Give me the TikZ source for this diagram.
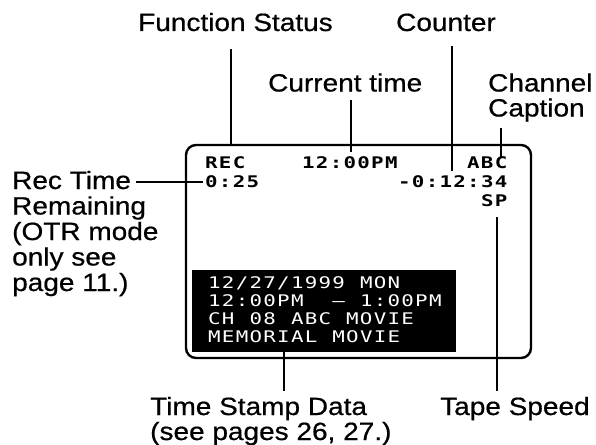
\documentclass[tikz,border=0pt]{standalone}
\usepackage{fontspec}
\setmainfont[FakeStretch=1.12,FakeBold=0.6]{Liberation Sans}
\newfontfamily\scrfont[FakeStretch=1.3,LetterSpace=8]{DejaVu Sans Mono}
\begin{document}
\begin{tikzpicture}[x=1pt,y=-1pt,
  lbl/.style={anchor=base west,inner sep=0pt,font=\fontsize{25}{25.5}\selectfont},
  scr/.style={anchor=base west,inner sep=0pt,font=\scrfont\bfseries\fontsize{16}{18}\selectfont},
  stamp/.style={anchor=base west,inner sep=0pt,text=white,font=\scrfont\fontsize{16}{18}\selectfont},
  lead/.style={line width=1.8pt},
  frame/.style={line width=2.4pt,rounded corners=10pt}]
\useasboundingbox (0,0) rectangle (596,444);
% screen
\draw[frame] (186,145) rectangle (531,358);
\fill (192,270) rectangle (456,352);
% screen texts (monospace grid, pitch 13.8)
\node[scr] (rec) at (205,168) {REC};
\node[scr] (ctime) at (302,168) {12:00PM};
\node[scr] (abc) at (467,168) {ABC};
\node[scr] (otr) at (205,187) {0:25};
\node[scr] (cnt) at (398,187) {-0:12:34};
\node[scr] (sp) at (481,206) {SP};
\node[stamp] (s1a) at (208,288) {12/27/1999};
\node[stamp] (s1b) at (359.8,288) {MON};
\node[stamp] (s2a) at (208,306) {12:00PM};
\node[stamp] (s2b) at (332.2,306) {–};
\node[stamp] (s2c) at (359.8,306) {1:00PM};
\node[stamp] (s3a) at (208,324) {CH};
\node[stamp] (s3b) at (249.4,324) {08};
\node[stamp] (s3c) at (290.8,324) {ABC};
\node[stamp] (s3d) at (346,324) {MOVIE};
\node[stamp] (s4a) at (208,342) {MEMORIAL};
\node[stamp] (s4b) at (332.2,342) {MOVIE};
% labels
\node[lbl] (fs) at (138,31) {Function Status};
\node[lbl] (counter) at (396,31) {Counter};
\node[lbl] (cur) at (268,91.5) {Current time};
\node[lbl] (chan) at (488,91.5) {Channel};
\node[lbl] (capt) at (488,116.5) {Caption};
\node[lbl] (rt1) at (12,189) {Rec Time};
\node[lbl] (rt2) at (12,214.5) {Remaining};
\node[lbl] (rt3) at (12,240) {(OTR mode};
\node[lbl] (rt4) at (12,265.5) {only see};
\node[lbl] (rt5) at (12,291) {page 11.)};
\node[lbl] (tsd1) at (150,415) {Time Stamp Data};
\node[lbl] (tsd2) at (150,440) {(see pages 26, 27.)};
\node[lbl] (tape) at (440,415) {Tape Speed};
% connector ends
\coordinate (fsA) at (231,49);   \coordinate (fsB) at (231,146);
\coordinate (ctA) at (351,100);  \coordinate (ctB) at (351,152);
\coordinate (coA) at (452,46);   \coordinate (coB) at (452,171);
\coordinate (chA) at (501,128);  \coordinate (chB) at (501,157);
\coordinate (rtA) at (136,182);  \coordinate (rtB) at (203,182);
\coordinate (spA) at (497,217);  \coordinate (spB) at (497,391);
\coordinate (tsA) at (284,352);  \coordinate (tsB) at (284,391);
\draw[lead] (fsA) -- (fsB);
\draw[lead] (ctA) -- (ctB);
\draw[lead] (coA) -- (coB);
\draw[lead] (chA) -- (chB);
\draw[lead] (rtA) -- (rtB);
\draw[lead] (spA) -- (spB);
\draw[lead] (tsA) -- (tsB);
\end{tikzpicture}
\end{document}
